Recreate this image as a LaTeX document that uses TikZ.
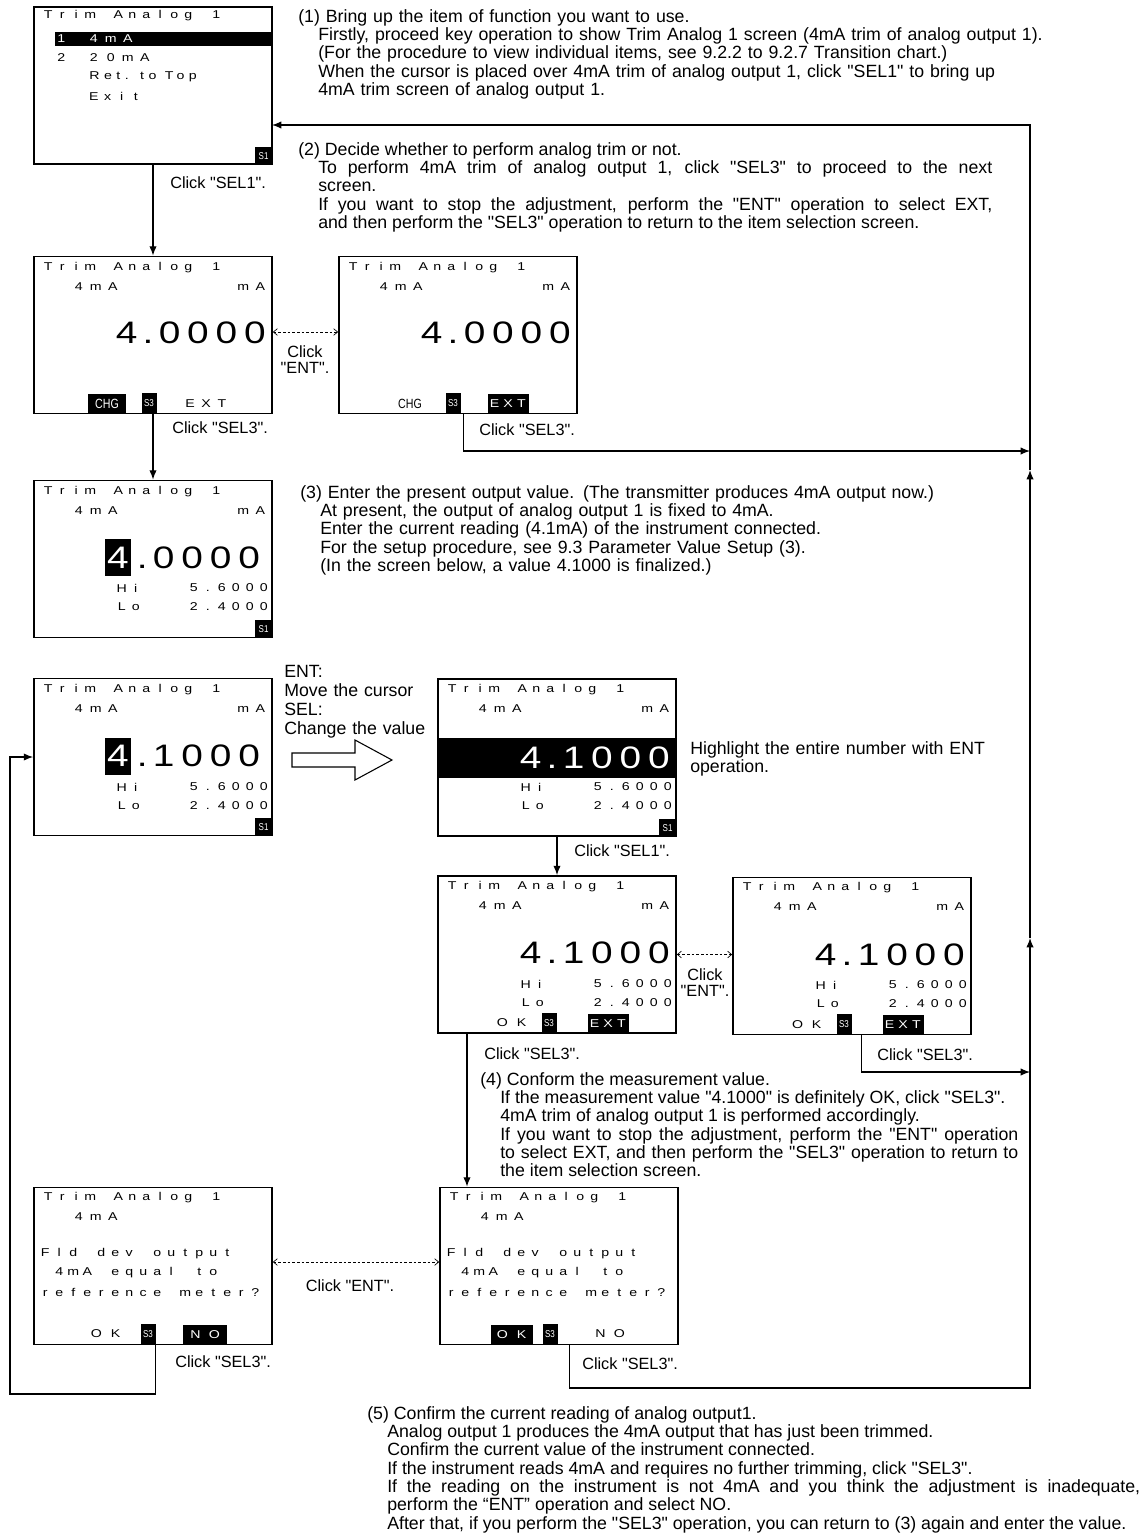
\documentclass[tikz,border=0pt]{standalone}
\usepackage{fontspec}
\newfontfamily\notefont{Liberation Sans}
\newfontfamily\lcdfont{Liberation Sans}[FakeStretch=1.25]
\newfontfamily\lcdmidfont{Liberation Sans}[FakeStretch=1.25,LetterSpace=40]
\newfontfamily\lcdbigfont{Liberation Sans}[FakeStretch=1.25,LetterSpace=22]
\newfontfamily\tagfont{Liberation Sans}[FakeStretch=0.8]
\usetikzlibrary{arrows.meta,positioning,calc}
\newcommand\lcddot{\kern4pt.\kern4pt}
% one character per LCD cell
\ExplSyntaxOn
\NewDocumentCommand\cells{O{10.5pt}m}{\str_map_inline:nn{#2}{\makebox[#1]{##1}}}
\ExplSyntaxOff

\begin{document}
\begin{tikzpicture}[x=0.75pt,y=-0.75pt,
  screen/.style={draw,line width=1.3pt,minimum width=178.5pt,minimum height=117.75pt,inner sep=0pt},
  lcd/.style={font=\lcdfont\fontsize{8.5}{9}\selectfont,inner sep=0pt,anchor=west},
  lcdmid/.style={font=\lcdmidfont\fontsize{8.5}{9}\selectfont,inner sep=0pt,anchor=west},
  big/.style={font=\lcdbigfont\fontsize{23.3}{24}\selectfont,inner sep=0pt},
  bigsel/.style={font=\lcdfont\fontsize{23.3}{24}\selectfont,fill=black,text=white,inner sep=0pt,
                 minimum width=19.5pt,minimum height=27.75pt},
  inv/.style={fill=black,text=white},
  keyinv/.style={fill=black,text=white,inner sep=0pt,minimum height=14.25pt,anchor=south},
  tag/.style={fill=black,text=white,font=\tagfont\fontsize{7.5}{8}\selectfont,inner sep=0pt,
              minimum width=11.25pt,minimum height=15pt},
  s1tag/.style={tag,anchor=south east,minimum width=13.5pt,minimum height=13.5pt},
  note/.style={font=\notefont\fontsize{13.3}{13.75}\selectfont,anchor=north west,inner sep=0pt},
  click/.style={font=\notefont\fontsize{12.2}{12}\selectfont,anchor=west,inner sep=0pt},
  flow/.style={-{Latex[length=7pt,width=5.5pt]},line width=0.9pt},
  toggle/.style={<->,>={Straight Barb[length=3pt,width=5pt]},line width=0.5pt,dash pattern=on 2pt off 1.5pt}
]
\useasboundingbox (0,0) rectangle (1147,1537);

% screens
\node[screen] (scrA) at (153,85.5) {};
\node[screen] (scrB) at (153,335) {};
\node[screen] (scrC) at (458,335) {};
\node[screen] (scrD) at (153,559) {};
\node[screen] (scrE) at (153,757) {};
\node[screen] (scrF) at (557,757.5) {};
\node[screen] (scrG) at (557,954.5) {};
\node[screen] (scrH) at (852,956) {};
\node[screen] (scrI) at (153,1266) {};
\node[screen] (scrJ) at (559,1266) {};

% A: item selection
\node[lcd] (tA) at (41,16) {\cells{Trim Analog 1}};
\node[inv,anchor=north west,minimum width=162pt,minimum height=10.5pt,inner sep=0pt] (barA) at (55,32) {};
\node[lcd,text=white] (r1nA) at (54,39) {\cells{1}};
\node[lcd,text=white] (r1A) at (85,39) {\cells[12.75pt]{4mA}};
\node[lcd] (r2nA) at (54,58) {\cells{2}};
\node[lcd] (r2A) at (85,58) {\cells[12.75pt]{20mA}};
\node[lcdmid] (r3A) at (89,77) {Ret. to Top};
\node[lcd] (r4A) at (86.5,96) {\cells{Exit}};
\node[s1tag] (s1A) at (scrA.south east) {S1};

% B: 4.0000, CHG
\node[lcd] (tB) at (41,268) {\cells{Trim Analog 1}};
\node[lcd] (uB) at (70,287) {\cells[12.75pt]{4mA}};
\node[lcd,anchor=east] (mB) at (269,287) {\cells[12.75pt]{mA}};
\node[big,anchor=east] (vB) at (266,333) {4\lcddot0000};
\node[tag,anchor=south,minimum width=28.5pt,minimum height=14.25pt,font=\tagfont\fontsize{10}{10}\selectfont] (chgB) at (107,413.5) {CHG};
\node[tag,anchor=south] (s3B) at (149,413.5) {S3};
\node[lcd,anchor=center] (extB) at (206,404) {\cells[12pt]{EXT}};

% C: 4.0000, EXT
\node[lcd] (tC) at (346,268) {\cells{Trim Analog 1}};
\node[lcd] (uC) at (375,287) {\cells[12.75pt]{4mA}};
\node[lcd,anchor=east] (mC) at (574,287) {\cells[12.75pt]{mA}};
\node[big,anchor=east] (vC) at (571,333) {4\lcddot0000};
\node[font=\tagfont\fontsize{10}{10}\selectfont,inner sep=0pt] (chgC) at (410,404) {CHG};
\node[tag,anchor=south] (s3C) at (453,413.5) {S3};
\node[lcd,keyinv,minimum width=30.75pt] (extC) at (508,413.5) {\cells[10pt]{EXT}};

% D: enter value
\node[lcd] (tD) at (41,492) {\cells{Trim Analog 1}};
\node[lcd] (uD) at (70,511) {\cells[12.75pt]{4mA}};
\node[lcd,anchor=east] (mD) at (269,511) {\cells[12.75pt]{mA}};
\node[bigsel] (dD) at (118,557.5) {4};
\node[big,anchor=west] (vD) at (dD.east) {\lcddot0000};
\node[lcd] (hD) at (114.5,588) {\cells{Hi}};
\node[lcd,anchor=east] (hvD) at (271,588) {\cells{5.6000}};
\node[lcd] (lD) at (114.5,607) {\cells{Lo}};
\node[lcd,anchor=east] (lvD) at (271,607) {\cells{2.4000}};
\node[s1tag] (s1D) at (scrD.south east) {S1};

% E: 4.1000 entered
\node[lcd] (tE) at (41,690) {\cells{Trim Analog 1}};
\node[lcd] (uE) at (70,709) {\cells[12.75pt]{4mA}};
\node[lcd,anchor=east] (mE) at (269,709) {\cells[12.75pt]{mA}};
\node[bigsel] (dE) at (118,756) {4};
\node[big,anchor=west] (vE) at (dE.east) {\lcddot1000};
\node[lcd] (hE) at (114.5,787) {\cells{Hi}};
\node[lcd,anchor=east] (hvE) at (271,787) {\cells{5.6000}};
\node[lcd] (lE) at (114.5,806) {\cells{Lo}};
\node[lcd,anchor=east] (lvE) at (271,806) {\cells{2.4000}};
\node[s1tag] (s1E) at (scrE.south east) {S1};

% F: whole number highlighted
\node[lcd] (tF) at (445,690) {\cells{Trim Analog 1}};
\node[lcd] (uF) at (474,709) {\cells[12.75pt]{4mA}};
\node[lcd,anchor=east] (mF) at (673,709) {\cells[12.75pt]{mA}};
\node[inv,minimum width=178.5pt,minimum height=30pt,inner sep=0pt] (bandF) at (557,758) {};
\node[big,text=white,anchor=east] (vF) at (670,758) {4\lcddot1000};
\node[lcd] (hF) at (518.5,787) {\cells{Hi}};
\node[lcd,anchor=east] (hvF) at (675,787) {\cells{5.6000}};
\node[lcd] (lF) at (518.5,806) {\cells{Lo}};
\node[lcd,anchor=east] (lvF) at (675,806) {\cells{2.4000}};
\node[s1tag] (s1F) at (scrF.south east) {S1};

% G: OK / EXT
\node[lcd] (tG) at (445,887) {\cells{Trim Analog 1}};
\node[lcd] (uG) at (474,906) {\cells[12.75pt]{4mA}};
\node[lcd,anchor=east] (mG) at (673,906) {\cells[12.75pt]{mA}};
\node[big,anchor=east] (vG) at (670,953) {4\lcddot1000};
\node[lcd] (hG) at (518.5,984) {\cells{Hi}};
\node[lcd,anchor=east] (hvG) at (675,984) {\cells{5.6000}};
\node[lcd] (lG) at (518.5,1003) {\cells{Lo}};
\node[lcd,anchor=east] (lvG) at (675,1003) {\cells{2.4000}};
\node[lcd,anchor=center] (okG) at (512,1023) {\cells[14.25pt]{OK}};
\node[tag,anchor=south] (s3G) at (549,1033) {S3};
\node[lcd,keyinv,minimum width=30.75pt] (extG) at (608,1033) {\cells[10pt]{EXT}};

% H: OK / EXT
\node[lcd] (tH) at (740,888) {\cells{Trim Analog 1}};
\node[lcd] (uH) at (769,907) {\cells[12.75pt]{4mA}};
\node[lcd,anchor=east] (mH) at (968,907) {\cells[12.75pt]{mA}};
\node[big,anchor=east] (vH) at (965,955) {4\lcddot1000};
\node[lcd] (hH) at (813.5,985) {\cells{Hi}};
\node[lcd,anchor=east] (hvH) at (970,985) {\cells{5.6000}};
\node[lcd] (lH) at (813.5,1004) {\cells{Lo}};
\node[lcd,anchor=east] (lvH) at (970,1004) {\cells{2.4000}};
\node[lcd,anchor=center] (okH) at (807,1025) {\cells[14.25pt]{OK}};
\node[tag,anchor=south] (s3H) at (844,1034.5) {S3};
\node[lcd,keyinv,minimum width=30.75pt] (extH) at (903,1034.5) {\cells[10pt]{EXT}};

% I: confirm, NO
\node[lcd] (tI) at (41,1198) {\cells{Trim Analog 1}};
\node[lcd] (uI) at (70,1217) {\cells[12.75pt]{4mA}};
\node[lcd] (q1I) at (38,1254) {\cells{Fld dev output}};
\node[lcd] (q2I) at (52,1273) {\cells{4mA equal to}};
\node[lcd] (q3I) at (38,1292) {\cells{reference meter?}};
\node[lcd,anchor=center] (okI) at (106,1334) {\cells[14.25pt]{OK}};
\node[tag,anchor=south] (s3I) at (148,1344.5) {S3};
\node[lcd,keyinv,minimum width=33pt] (noI) at (205,1344.5) {\cells[14.25pt]{NO}};

% J: confirm, OK
\node[lcd] (tJ) at (447,1198) {\cells{Trim Analog 1}};
\node[lcd] (uJ) at (476,1217) {\cells[12.75pt]{4mA}};
\node[lcd] (q1J) at (444,1254) {\cells{Fld dev output}};
\node[lcd] (q2J) at (458,1273) {\cells{4mA equal to}};
\node[lcd] (q3J) at (444,1292) {\cells{reference meter?}};
\node[lcd,keyinv,minimum width=31.5pt] (okJ) at (512,1344.5) {\cells[14.25pt]{OK}};
\node[tag,anchor=south] (s3J) at (550,1344.5) {S3};
\node[lcd,anchor=center] (noJ) at (610,1334) {\cells[14.25pt]{NO}};

% notes
\node[note,text width=620pt,align=left] (n1) at (298,9) {\leftskip=15pt\hspace*{-15pt}(1) Bring up the item of function you want to use.\\
Firstly, proceed key operation to show Trim Analog 1 screen (4mA trim of analog output 1).\\
(For the procedure to view individual items, see 9.2.2 to 9.2.7 Transition chart.)\\
When the cursor is placed over 4mA trim of analog output 1, click "SEL1" to bring up\\
4mA trim screen of analog output 1.\par};
\node[note,text width=520.5pt,align=justify] (n2) at (298,142) {\leftskip=15pt\hspace*{-15pt}(2) Decide whether to perform analog trim or not.\\
To perform 4mA trim of analog output 1, click "SEL3" to proceed to the next\linebreak screen.\\
If you want to stop the adjustment, perform the "ENT" operation to select EXT,\linebreak and then perform the "SEL3" operation to return to the item selection screen.\par};
\node[note,text width=620pt,align=left] (n3) at (300,485) {\leftskip=15pt\hspace*{-15pt}(3) Enter the present output value. (The transmitter produces 4mA output now.)\\
At present, the output of analog output 1 is fixed to 4mA.\\
Enter the current reading (4.1mA) of the instrument connected.\\
For the setup procedure, see 9.3 Parameter Value Setup (3).\\
(In the screen below, a value 4.1000 is finalized.)\par};
\node[note,text width=200pt,align=left,font=\notefont\fontsize{13.3}{14.25}\selectfont] (n3b) at (284,665) {ENT:\\Move the cursor\\SEL:\\Change the value\par};
\node[note,text width=300pt,align=left] (n3c) at (690,741) {Highlight the entire number with ENT\\operation.\par};
\node[note,text width=403.5pt,align=justify] (n4) at (480,1072) {\leftskip=15pt\hspace*{-15pt}(4) Conform the measurement value.\\
If the measurement value "4.1000" is definitely OK, click "SEL3".\\
4mA trim of analog output 1 is performed accordingly.\\
If you want to stop the adjustment, perform the "ENT" operation\linebreak to select EXT, and then perform the "SEL3" operation to return to\linebreak the item selection screen.\par};
\node[note,text width=579.75pt,align=justify] (n5) at (367,1406) {\leftskip=15pt\hspace*{-15pt}(5) Confirm the current reading of analog output1.\\
Analog output 1 produces the 4mA output that has just been trimmed.\\
Confirm the current value of the instrument connected.\\
If the instrument reads 4mA and requires no further trimming, click "SEL3".\\
If the reading on the instrument is not 4mA and you think the adjustment is inadequate,\linebreak perform the “ENT” operation and select NO.\\
After that, if you perform the "SEL3" operation, you can return to (3) again and enter the value.\par};

% rail coordinates
\coordinate (railC) at (1030,451);
\coordinate (railUp1) at (1030,470);
\coordinate (railUp2) at (1030,938);
\coordinate (railH) at (1030,1072);
\coordinate (railJ) at (1030,1388);
\coordinate (aIn) at (272,125);
\coordinate (loopI) at (10,1394);
\coordinate (gOut) at (467,1033);

% connectors
\draw[flow] (scrA.south) -- (scrB.north);
\node[click] (cA) at (170,183) {Click "SEL1".};
\draw[toggle] ([yshift=2.25pt]scrB.east) -- ([yshift=2.25pt]scrC.west);
\node[click,anchor=center,align=center] (cBC) at (305,360) {Click\\"ENT".};
\draw[flow] (scrB.south) -- (scrD.north);
\node[click] (cB) at (172,428) {Click "SEL3".};
\draw[flow] ([xshift=2pt]s3C.south east) |- (railC);
\node[click] (cC) at (479,430) {Click "SEL3".};
\draw[line width=0.8pt] (292,753) -- (355,753) -- (355,740) -- (392,760) -- (355,780) -- (355,767) -- (292,767) -- cycle;
\draw[flow] (scrF.south) -- (scrG.north);
\node[click] (cF) at (574,851) {Click "SEL1".};
\draw[toggle] (scrG.east) -- (scrG.east -| scrH.west);
\node[click,anchor=center,align=center] (cGH) at (705,983) {Click\\"ENT".};
\draw[flow] (gOut) -- (gOut |- scrJ.north);
\node[click] (cG) at (484,1054) {Click "SEL3".};
\draw[flow] ([xshift=7pt]s3H.south east) |- (railH);
\node[click] (cH) at (877,1055) {Click "SEL3".};
\draw[toggle] ([yshift=3pt]scrI.east) -- ([yshift=3pt]scrJ.west);
\node[click,anchor=center] (cIJ) at (350,1286) {Click "ENT".};
\draw[flow] (s3I.south east) |- (loopI) |- (scrE.west);
\node[click] (cI) at (175,1362) {Click "SEL3".};
\draw[flow] ([xshift=9pt]s3J.south east) |- (railJ) -- (railUp2);
\draw[flow] (railUp2) -- (railUp1);
\draw[flow] (railUp1) |- (aIn);
\node[click] (cJ) at (582,1364) {Click "SEL3".};
\end{tikzpicture}
\end{document}
